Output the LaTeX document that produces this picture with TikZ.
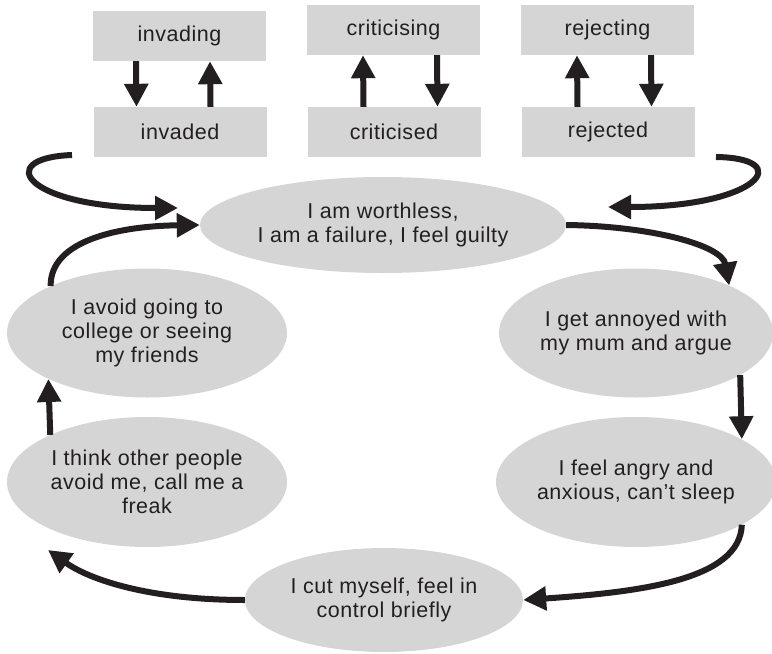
\documentclass[tikz,border=0pt]{standalone}
\usepackage{fontspec}
\setmainfont{Liberation Sans}[LetterSpace=2.5]
\usetikzlibrary{arrows.meta,shapes.geometric}
\definecolor{ink}{HTML}{231F20}
\definecolor{shade}{HTML}{D5D5D5}
\begin{document}
\begin{tikzpicture}[x=1pt,y=-1pt,
  every node/.style={text=ink,font=\fontsize{21.5}{24}\selectfont,align=center,inner sep=0pt},
  tag/.style={rectangle,fill=shade,minimum width=173pt,minimum height=50pt},
  thought/.style={ellipse,fill=shade},
  arr/.style={draw=ink,line width=6pt,-{Triangle[length=23pt,width=23pt]}}]
\useasboundingbox (0,0) rectangle (772,654);

% relationship pairs
\node[tag] (inv1) at (179.5,36) {invading};
\node[tag] (inv2) at (180,132) {invaded};
\node[tag] (cri1) at (393.5,30) {criticising};
\node[tag] (cri2) at (394,132) {criticised};
\node[tag] (rej1) at (607.5,30) {rejecting};
\node[tag] (rej2) at (608,132) {rejected};

\draw[arr] ([xshift=-43.5pt]inv1.south) -- ([xshift=-43.5pt]inv2.north);
\draw[arr] ([xshift=30.5pt]inv2.north) -- ([xshift=30.5pt]inv1.south);
\draw[arr] ([xshift=-30.5pt]cri2.north) -- ([xshift=-30.5pt]cri1.south);
\draw[arr] ([xshift=43.5pt]cri1.south) -- ([xshift=43.5pt]cri2.north);
\draw[arr] ([xshift=-30.5pt]rej2.north) -- ([xshift=-30.5pt]rej1.south);
\draw[arr] ([xshift=43.5pt]rej1.south) -- ([xshift=43.5pt]rej2.north);

% the cycle
\node[thought,minimum width=366pt,minimum height=96pt] (E1) at (383,225) {I am worthless,\\I am a failure, I feel guilty};
\node[thought,minimum width=274pt,minimum height=129pt] (E2) at (636,333) {I get annoyed with\\my mum and argue};
\node[thought,minimum width=274pt,minimum height=130pt] (E3) at (636,482) {I feel angry and\\anxious, can’t sleep};
\node[thought,minimum width=278pt,minimum height=104pt] (E4) at (384,600) {I cut myself, feel in\\control briefly};
\node[thought,minimum width=280pt,minimum height=130pt] (E5) at (147,482) {I think other people\\avoid me, call me a\\freak};
\node[thought,minimum width=280pt,minimum height=129pt] (E6) at (147,333) {I avoid going to\\college or seeing\\my friends};

% loose ends of the feed-in arrows
\coordinate (s1) at (72,155);
\coordinate (t1) at (178,208);
\coordinate (s3) at (716,157);
\coordinate (t3) at (608,207);
\coordinate (t7) at (48,550);

\draw[arr] (s1) .. controls (-8,158) and (25,208) .. (t1);
\draw[arr] (s3) .. controls (796,158) and (760,207) .. (t3);

\draw[arr] (E1.east) .. controls (650,226) and (722,245) .. (E2.27);
\draw[arr] (E2.-22.9) -- (E3.22.9);
\draw[arr] (E3.-22.9) .. controls (740,580) and (640,592) .. (E4.east);
\draw[arr] (E4.west) .. controls (150,600) and (90,580) .. (t7);
\draw[arr] (E5.154.2) -- (E6.205.8);
\draw[arr] (E6.154.6) .. controls (50,240) and (120,226) .. (E1.west);
\end{tikzpicture}
\end{document}
